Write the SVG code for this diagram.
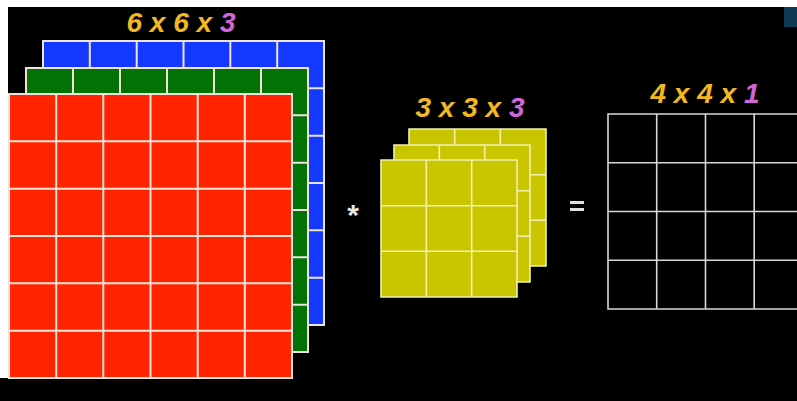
<svg xmlns="http://www.w3.org/2000/svg" width="797" height="401" viewBox="0 0 797 401">
<style>
.grid{stroke:#efe4dc;stroke-width:2;fill:none}
.ygrid{stroke:#f2efb0;stroke-width:1.6;fill:none}
.ogrid{stroke:#d8d8d8;stroke-width:1.6;fill:none}
.lbl{font-family:"Liberation Sans",Arial,sans-serif;font-weight:bold;font-style:italic;font-size:28px;fill:#f2b820}
.mag{fill:#d465d6}
.op{font-family:"Liberation Sans",Arial,sans-serif;font-weight:bold;font-size:30px;fill:#e8e8e8}
</style>
<rect x="0" y="0" width="797" height="401" fill="#ffffff"/>
<rect x="8" y="7" width="789" height="394" fill="#000000"/>
<rect x="0" y="378" width="8" height="23" fill="#000000"/>
<rect x="784" y="7" width="13" height="20" fill="#0e3a56"/>

<g id="input-blue">
<rect x="43" y="41" width="281" height="284" fill="#1538ff"/>
<path class="grid" d="M43,41H324V325H43Z M89.8,41V325 M136.7,41V325 M183.5,41V325 M230.3,41V325 M277.2,41V325 M43,88.3H324 M43,135.7H324 M43,183H324 M43,230.3H324 M43,277.7H324"/>
</g>
<g id="input-green">
<rect x="26" y="68" width="282" height="284" fill="#037205"/>
<path class="grid" d="M26,68H308V352H26Z M73,68V352 M120,68V352 M167,68V352 M214,68V352 M261,68V352 M26,115.3H308 M26,162.7H308 M26,210H308 M26,257.3H308 M26,304.7H308"/>
</g>
<g id="input-red">
<rect x="9" y="94" width="283" height="284" fill="#ff2400"/>
<path class="grid" d="M9,94H292V378H9Z M56.2,94V378 M103.3,94V378 M150.5,94V378 M197.7,94V378 M244.8,94V378 M9,141.3H292 M9,188.7H292 M9,236H292 M9,283.3H292 M9,330.7H292"/>
</g>
<g id="input-label">
<text class="lbl" x="181" y="32" text-anchor="middle">6 x 6 x <tspan class="mag">3</tspan></text>
</g>

<g id="op-conv">
<text class="op" x="353" y="225" text-anchor="middle">*</text>
</g>

<g id="filter-back">
<rect x="409" y="129" width="137" height="137" fill="#c9c600"/>
<path class="ygrid" d="M409,129H546V266H409Z M454.7,129V266 M500.3,129V266 M409,174.7H546 M409,220.3H546"/>
</g>
<g id="filter-mid">
<rect x="394" y="145" width="136" height="137" fill="#c9c600"/>
<path class="ygrid" d="M394,145H530V282H394Z M439.3,145V282 M484.7,145V282 M394,190.7H530 M394,236.3H530"/>
</g>
<g id="filter-front">
<rect x="381" y="160" width="136" height="137" fill="#c9c600"/>
<path class="ygrid" d="M381,160H517V297H381Z M426.3,160V297 M471.7,160V297 M381,205.7H517 M381,251.3H517"/>
</g>
<g id="filter-label">
<text class="lbl" x="470" y="117" text-anchor="middle">3 x 3 x <tspan class="mag">3</tspan></text>
</g>

<g id="op-equals">
<rect x="570" y="201" width="14" height="3" fill="#e0e0e0"/>
<rect x="570" y="208" width="14" height="3" fill="#e0e0e0"/>
</g>

<g id="output">
<path class="ogrid" d="M608,114H803V309H608Z M656.7,114V309 M705.5,114V309 M754.2,114V309 M608,162.7H803 M608,211.5H803 M608,260.2H803"/>
</g>
<g id="output-label">
<text class="lbl" x="705" y="103" text-anchor="middle">4 x 4 x <tspan class="mag">1</tspan></text>
</g>
</svg>
